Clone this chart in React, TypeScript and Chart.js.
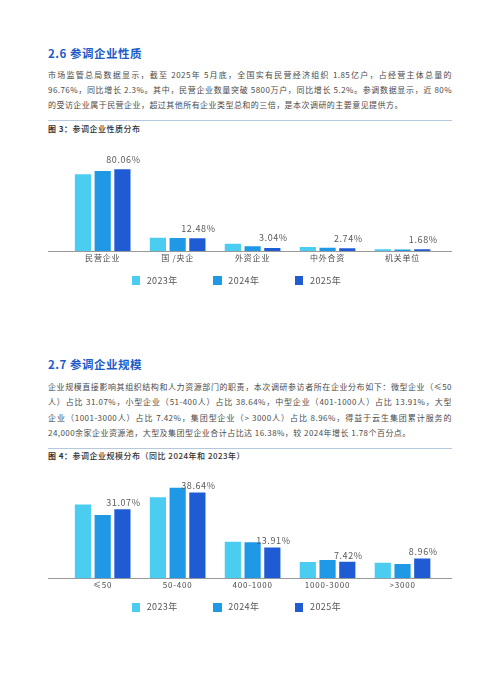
import React, { useEffect, useRef } from "react";
import { Chart, registerables } from "chart.js";

Chart.register(...registerables);

const FONT = "'Noto Sans CJK SC', 'Noto Sans', sans-serif";

const years = ["2023年", "2024年", "2025年"];
const yearColors = ["#4acdf1", "#1f98e6", "#1f5cd4"];

const natureCategories = ["民营企业", "国 /央企", "外资企业", "中外合资", "机关单位"];
const nature2023 = [75.2, 13.0, 7.1, 3.9, 1.6];
const nature2024 = [78.4, 12.8, 4.6, 3.2, 1.5];
const nature2025 = [80.06, 12.48, 3.04, 2.74, 1.68];

const sizeCategories = ["≤50", "50-400", "400-1000", "1000-3000", ">3000"];
const size2023 = [33.2, 36.5, 16.4, 7.3, 7.0];
const size2024 = [28.5, 40.8, 16.2, 8.2, 6.4];
const size2025 = [31.07, 38.64, 13.91, 7.42, 8.96];

const para1 = [
  "市场监管总局数据显示，截至 2025年 5月底，全国实有民营经济组织 1.85亿户，占经营主体总量的",
  "96.76%，同比增长 2.3%。其中，民营企业数量突破 5800万户，同比增长 5.2%。参调数据显示，近 80%",
  "的受访企业属于民营企业，超过其他所有企业类型总和的三倍，是本次调研的主要意见提供方。",
];
const para2 = [
  "企业规模直接影响其组织结构和人力资源部门的职责，本次调研参访者所在企业分布如下：微型企业（≤50",
  "人）占比 31.07%，小型企业（51-400人）占比 38.64%，中型企业（401-1000人）占比 13.91%，大型",
  "企业（1001-3000人）占比 7.42%，集团型企业（> 3000人）占比 8.96%，得益于云生集团累计服务的",
  "24,000余家企业资源池，大型及集团型企业合计占比达 16.38%，较 2024年增长 1.78个百分点。",
];

type BarProps = {
  categories: string[];
  series: number[][];
  yMax: number;
  labelGap: number;
  pad: { left: number; right: number; top: number; bottom: number };
  height: number;
};

function BarChart({ categories, series, yMax, labelGap, pad, height }: BarProps) {
  const ref = useRef<HTMLCanvasElement | null>(null);
  useEffect(() => {
    const canvas = ref.current;
    if (!canvas) return;
    const spacing = {
      id: "spacing",
      beforeDraw(chart: any) {
        chart.ctx.letterSpacing = "0.8px";
      },
      afterDraw(chart: any) {
        chart.ctx.letterSpacing = "0px";
      },
    };
    const baseline = {
      id: "baseline",
      beforeDatasetsDraw(chart: any) {
        const { ctx } = chart;
        const y = Math.round(chart.scales.y.getPixelForValue(0)) + 0.5;
        ctx.save();
        ctx.strokeStyle = "#9a9a9a";
        ctx.lineWidth = 1;
        ctx.beginPath();
        ctx.moveTo(8, y);
        ctx.lineTo(chart.width - 8, y);
        ctx.stroke();
        ctx.restore();
      },
    };
    const valueLabels = {
      id: "valueLabels",
      afterDatasetsDraw(chart: any) {
        const { ctx } = chart;
        const last = chart.data.datasets.length - 1;
        const meta = chart.getDatasetMeta(last);
        const data = chart.data.datasets[last].data as number[];
        ctx.save();
        ctx.letterSpacing = "0.6px";
        ctx.font = `9px ${FONT}`;
        ctx.fillStyle = "#5a5a5a";
        ctx.textAlign = "center";
        ctx.textBaseline = "middle";
        meta.data.forEach((el: any, i: number) => {
          ctx.fillText(data[i].toFixed(2) + "%", el.x + 1, el.y - labelGap);
        });
        ctx.restore();
      },
    };
    const chart = new Chart(canvas, {
      type: "bar",
      data: {
        labels: categories,
        datasets: series.map((d, i) => ({
          label: years[i],
          data: d,
          backgroundColor: yearColors[i],
          borderWidth: 0,
          categoryPercentage: 0.79,
          barPercentage: 0.82,
        })),
      },
      options: {
        animation: false,
        responsive: true,
        maintainAspectRatio: false,
        layout: { padding: pad },
        plugins: { legend: { display: false }, tooltip: { enabled: false } },
        scales: {
          x: {
            grid: { display: false, drawTicks: false },
            border: { display: false },
            ticks: { color: "#4a4a4a", font: { family: FONT, size: 8 }, padding: 2 },
          },
          y: { display: false, min: 0, max: yMax },
        },
      },
      plugins: [spacing, baseline, valueLabels],
    });
    return () => chart.destroy();
  }, []);
  return (
    <div style={{ position: "relative", width: 420, height }}>
      <canvas ref={ref} />
    </div>
  );
}

function Legend({ top }: { top: number }) {
  return (
    <div style={{ position: "absolute", left: 131.7, top: top - 6, height: 12, display: "flex" }}>
      {years.map((y, i) => (
        <div key={y} style={{ width: 81.7, display: "flex", alignItems: "center", height: 12 }}>
          <div style={{ width: 8.3, height: 8.5, background: yearColors[i] }} />
          <div style={{ marginLeft: 6.7, fontSize: 9, lineHeight: "12px", color: "#555", letterSpacing: 0.4 }}>{y}</div>
        </div>
      ))}
    </div>
  );
}

function Para({ lines, top }: { lines: string[]; top: number }) {
  return (
    <div style={{ position: "absolute", left: 48, top, width: 404, fontSize: 8, lineHeight: "15.25px", color: "#4a4a4a", letterSpacing: 0.45 }}>
      {lines.map((l, i) => (
        <div
          key={i}
          style={{ textAlign: "justify", textAlignLast: i === lines.length - 1 ? "left" : "justify", height: 15.25 } as any}
        >
          {l}
        </div>
      ))}
    </div>
  );
}

function Heading({ text, center }: { text: string; center: number }) {
  return (
    <div style={{ position: "absolute", left: 48, top: center - 7, lineHeight: "14px", fontSize: 11.5, fontWeight: 700, color: "#1b5cc6", letterSpacing: 0.5 }}>
      {text}
    </div>
  );
}

function Rule({ top }: { top: number }) {
  return <div style={{ position: "absolute", left: 48, top, width: 404, height: 1, background: "#b6c8dc" }} />;
}

function FigTitle({ label, text, center }: { label: string; text: string; center: number }) {
  return (
    <div style={{ position: "absolute", left: 48, top: center - 5, lineHeight: "10px", fontSize: 8, color: "#333", letterSpacing: 0.5 }}>
      <span style={{ fontWeight: 700 }}>{label}</span>
      <span style={{ fontWeight: 500 }}>{text}</span>
    </div>
  );
}

export default function App() {
  return (
    <div style={{ position: "absolute", left: 0, top: 0, width: 500, height: 679, background: "#fff", fontFamily: FONT, overflow: "hidden" }}>
      <Heading text="2.6 参调企业性质" center={53} />
      <Para lines={para1} top={66.7} />
      <Rule top={120} />
      <FigTitle label="图 3：" text="参调企业性质分布" center={128.7} />
      <div style={{ position: "absolute", left: 40, top: 140 }}>
        <BarChart
          categories={natureCategories}
          series={[nature2023, nature2024, nature2025]}
          yMax={100}
          labelGap={10}
          pad={{ left: 25.2, right: 20, top: 9, bottom: 35.4 }}
          height={160}
        />
      </div>
      <Legend top={280.5} />

      <Heading text="2.7 参调企业规模" center={364.3} />
      <Para lines={para2} top={379.1} />
      <Rule top={448} />
      <FigTitle label="图 4：" text="参调企业规模分布（同比 2024年和 2023年）" center={456} />
      <div style={{ position: "absolute", left: 40, top: 470 }}>
        <BarChart
          categories={sizeCategories}
          series={[size2023, size2024, size2025]}
          yMax={45}
          labelGap={6.5}
          pad={{ left: 25.2, right: 20, top: 8.3, bottom: 28.1 }}
          height={150}
        />
      </div>
      <Legend top={607.3} />
    </div>
  );
}
